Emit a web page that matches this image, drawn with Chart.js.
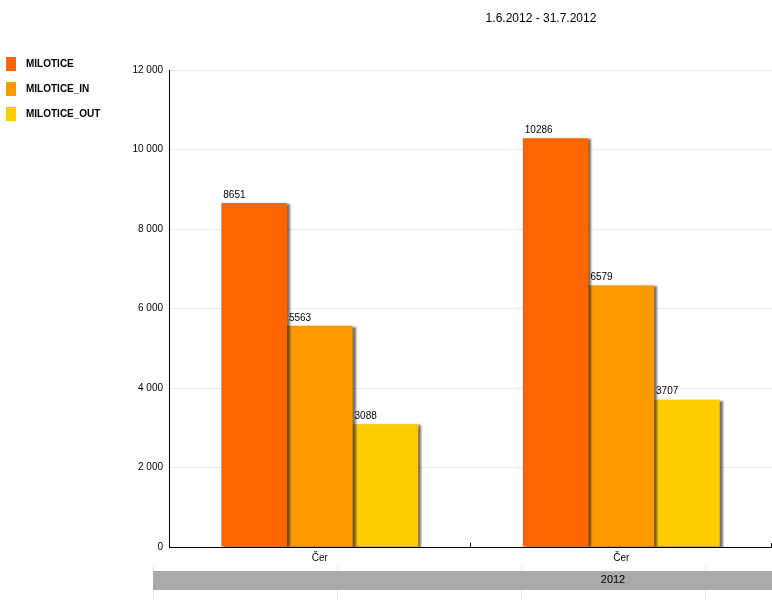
<!DOCTYPE html>
<html>
<head>
<meta charset="utf-8">
<script src="https://cdn.jsdelivr.net/npm/chart.js@4"></script>
<style>
	html, body { margin: 0; padding: 0; background: #fff; }
	#wrap { width: 772px; height: 611px; }
</style>
</head>
<body>
<div id="wrap"><canvas id="layer"></canvas></div>
<script>
const title = '1.6.2012 - 31.7.2012';
const categories = ['Čer', 'Čer'];
const years = ['2012'];
const seriesNames = ['MILOTICE', 'MILOTICE_IN', 'MILOTICE_OUT'];
const milotice = [8651, 10286];
const miloticeIn = [5563, 6579];
const miloticeOut = [3088, 3707];
const colors = ['#ff6600', '#ff9900', '#ffcc00'];
const yTicks = [0, 2000, 4000, 6000, 8000, 10000, 12000];

const FONT = '"Liberation Sans", Arial, sans-serif';

function fmt(v) {
	return String(v).replace(/\B(?=(\d{3})+(?!\d))/g, ' ');
}

// drop shadow on the bars
const shadowPlugin = {
	id: 'shadow',
	beforeDatasetDraw: function(chart) {
		let ctx = chart.ctx;
		ctx.save();
		ctx.shadowColor = 'rgba(0,0,0,0.55)';
		ctx.shadowOffsetX = 3;
		ctx.shadowOffsetY = 1;
		ctx.shadowBlur = 2;
	},
	afterDatasetDraw: function(chart) {
		chart.ctx.restore();
	},
};

const extrasPlugin = {
	id: 'extras',
	afterDraw: function(chart) {
		let ctx = chart.ctx;
		let area = chart.chartArea;
		ctx.save();

		// title
		ctx.fillStyle = '#000';
		ctx.font = '12px ' + FONT;
		ctx.textAlign = 'center';
		ctx.textBaseline = 'middle';
		ctx.fillText(title, 541, 19);

		// legend
		ctx.font = 'bold 10px ' + FONT;
		ctx.textAlign = 'left';
		for(let i = 0; i < seriesNames.length; i++) {
			let y = 57 + i * 25;
			ctx.fillStyle = colors[i];
			ctx.fillRect(6, y, 10, 14);
			ctx.fillStyle = '#000';
			ctx.fillText(seriesNames[i], 26, y + 7);
		}

		// value labels
		ctx.font = '10px ' + FONT;
		ctx.textBaseline = 'bottom';
		chart.data.datasets.forEach((ds, di) => {
			chart.getDatasetMeta(di).data.forEach((bar, i) => {
				let left = bar.x - bar.width / 2;
				ctx.fillStyle = '#000';
				ctx.fillText(String(ds.data[i]), left + 2, bar.y - 3);
			});
		});

		// x tick marks between categories
		let xs = chart.scales.x;
		ctx.strokeStyle = '#000';
		ctx.lineWidth = 1;
		for(let i = 1; i <= categories.length; i++) {
			let x = Math.round(area.left + (area.right - area.left) * i / categories.length) - 0.5;
			ctx.beginPath();
			ctx.moveTo(x, area.bottom - 4);
			ctx.lineTo(x, area.bottom);
			ctx.stroke();
		}

		// year band
		ctx.strokeStyle = '#e8e8e8';
		[153.5, 337.5, 521.5, 705.5].forEach((x) => {
			ctx.beginPath();
			ctx.moveTo(x, 565);
			ctx.lineTo(x, 600);
			ctx.stroke();
		});
		ctx.fillStyle = '#aaaaaa';
		ctx.fillRect(153, 571, 772 - 153, 19);
		ctx.fillStyle = '#000';
		ctx.font = '11px ' + FONT;
		ctx.textAlign = 'center';
		ctx.textBaseline = 'middle';
		ctx.fillText(years[0], 613, 580);

		ctx.restore();
	},
};

let config = {
	type: 'bar',
	data: {
		labels: categories,
		datasets: [{
			label: seriesNames[0],
			data: milotice,
			backgroundColor: colors[0],
		}, {
			label: seriesNames[1],
			data: miloticeIn,
			backgroundColor: colors[1],
		}, {
			label: seriesNames[2],
			data: miloticeOut,
			backgroundColor: colors[2],
		}],
	},
	options: {
		responsive: true,
		maintainAspectRatio: false,
		animation: false,
		layout: { padding: { left: 0, top: 70, right: 0, bottom: 0 } },
		datasets: {
			bar: { categoryPercentage: 0.653, barPercentage: 1.0 },
		},
		plugins: {
			legend: { display: false },
			title: { display: false },
			tooltip: { enabled: false },
		},
		scales: {
			x: {
				grid: { display: true, drawOnChartArea: false, drawTicks: false, color: '#000' },
				border: { display: true, color: '#000', width: 1 },
				ticks: {
					color: '#000',
					font: { family: FONT, size: 10 },
					padding: 5,
					maxRotation: 0,
				},
				afterFit: function(scale) { scale.height = 64; },
			},
			y: {
				min: 0,
				max: 12000,
				afterBuildTicks: function(scale) {
					scale.ticks = yTicks.map((v) => ({ value: v }));
				},
				grid: { color: '#ececec', drawTicks: false },
				border: { display: true, color: '#000', width: 1 },
				ticks: {
					color: '#000',
					font: { family: FONT, size: 10 },
					padding: 6,
					callback: function(v) { return fmt(v); },
				},
				afterFit: function(scale) { scale.width = 169; },
			},
		},
	},
	plugins: [shadowPlugin, extrasPlugin],
};

let ctx = document.getElementById('layer').getContext('2d');
new Chart(ctx, config);
</script>
</body>
</html>
